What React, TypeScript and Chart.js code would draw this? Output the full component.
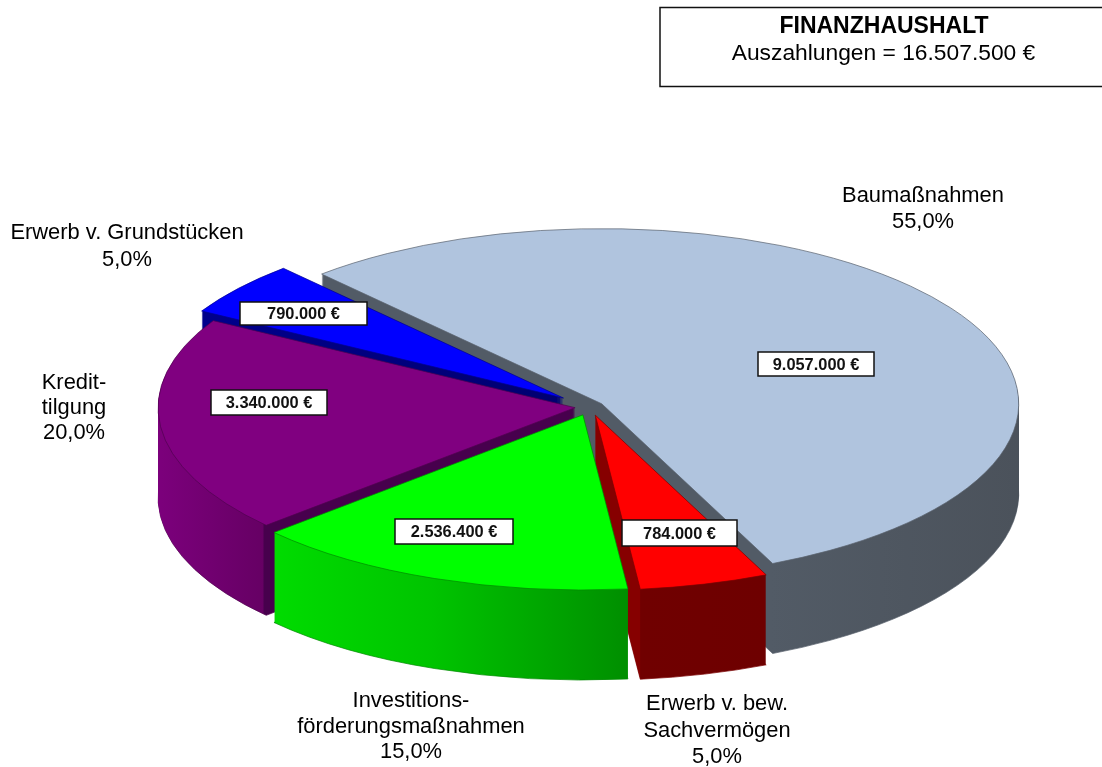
import React, { useEffect, useRef } from "react";
import { Chart, registerables } from "chart.js";

Chart.register(...registerables);

const categories = [
  "Baumaßnahmen",
  "Erwerb v. bew. Sachvermögen",
  "Investitionsförderungsmaßnahmen",
  "Kredittilgung",
  "Erwerb v. Grundstücken",
];
const shares = [55, 5, 15, 20, 5];
const amountLabels = ["9.057.000 €", "784.000 €", "2.536.400 €", "3.340.000 €", "790.000 €"];
const percentLabels = ["55,0%", "5,0%", "15,0%", "20,0%", "5,0%"];
const nameLines = [
  ["Baumaßnahmen"],
  ["Erwerb v. bew.", "Sachvermögen"],
  ["Investitions-", "förderungsmaßnahmen"],
  ["Kredit-", "tilgung"],
  ["Erwerb v. Grundstücken"],
];
const titleBold = "FINANZHAUSHALT";
const titleLine = "Auszahlungen = 16.507.500 €";

const topColors = ["#b0c4de", "#ff0000", "#00ff00", "#800080", "#0000ff"];
const edgeColors = ["#5a636e", "#7a0000", "#008a00", "#50004f", "#000090"];
const explode = [14, 20, 20, 15, 34];

const SQUASH = 0.42;
const DEPTH = 90;
const DRAW_ORDER = [0, 4, 3, 1, 2];

// layout of the texts (centre x, first-line y)
const namePos = [
  [923, 196],
  [717, 704],
  [411, 701],
  [74, 383],
  [127, 233],
];
const nameGap = [26, 26.5, 25.5, 25, 27];
// label boxes: left, top, width, height
const boxes = [
  [758, 352, 116, 24],
  [622, 520, 115, 26],
  [395, 519, 118, 25],
  [211, 390, 116, 25],
  [240, 302, 127, 23],
];

function explodeOffset(arc: any, i: number) {
  const mid = (arc.startAngle + arc.endAngle) / 2;
  return [Math.cos(mid) * explode[i], Math.sin(mid) * explode[i]];
}

function sideGradient(ctx: CanvasRenderingContext2D, arc: any, i: number) {
  const [ox] = explodeOffset(arc, i);
  const g = (stops: [number, string][], x0: number, x1: number) => {
    const grad = ctx.createLinearGradient(x0 - ox, 0, x1 - ox, 0);
    stops.forEach(([o, c]) => grad.addColorStop(o, c));
    return grad;
  };
  switch (i) {
    case 0:
      return g([[0, "#525b66"], [1, "#4b525b"]], 770, 1018);
    case 1:
      return g([[0, "#860000"], [0.26, "#860000"], [0.262, "#700000"], [1, "#6e0000"]], 596, 766);
    case 2:
      return g([[0, "#00dc00"], [0.45, "#00c400"], [1, "#008f00"]], 273, 627);
    case 3:
      return g([[0, "#7c007c"], [0.9, "#660064"], [0.905, "#47004d"], [1, "#47004d"]], 157, 275);
    default:
      return g([[0, "#00008c"], [1, "#000070"]], 200, 560);
  }
}

function pieTransform(ctx: CanvasRenderingContext2D, arc: any, i: number, dy: number) {
  const [ox, oy] = explodeOffset(arc, i);
  ctx.translate(arc.x, arc.y + dy);
  ctx.scale(1, SQUASH);
  ctx.translate(ox - arc.x, oy - arc.y);
}

const pie3d = {
  id: "pie3d",
  beforeDatasetsDraw(chart: any) {
    const ctx: CanvasRenderingContext2D = chart.ctx;
    const arcs = chart.getDatasetMeta(0).data;
    DRAW_ORDER.forEach((i) => {
      const arc = arcs[i];
      const side = Object.create(arc);
      const grad = sideGradient(ctx, arc, i);
      const base = Object.create(arc);
      base.options = { ...arc.options, backgroundColor: grad };
      ctx.save();
      pieTransform(ctx, arc, i, DEPTH);
      base.draw(ctx);
      ctx.restore();
      side.options = { ...arc.options, backgroundColor: grad, borderColor: grad, borderWidth: 0 };
      for (let dy = DEPTH - 1; dy >= 1; dy -= 1) {
        ctx.save();
        pieTransform(ctx, arc, i, dy);
        side.draw(ctx);
        ctx.restore();
      }
      ctx.save();
      pieTransform(ctx, arc, i, 0);
      arc.draw(ctx);
      ctx.restore();
    });
    return false;
  },
  afterDraw(chart: any) {
    const ctx: CanvasRenderingContext2D = chart.ctx;
    ctx.save();
    ctx.textAlign = "center";
    ctx.textBaseline = "middle";
    ctx.fillStyle = "#000";

    // header box
    ctx.strokeStyle = "#111";
    ctx.lineWidth = 1.5;
    ctx.strokeRect(660, 7.5, 460, 79);
    ctx.font = 'bold 23px "Liberation Sans"';
    ctx.fillText(titleBold, 884, 27);
    ctx.font = '22.8px "Liberation Sans"';
    ctx.fillText(titleLine, 883.5, 54);

    // slice names
    nameLines.forEach((lines, i) => {
      const [x, y] = namePos[i];
      [...lines, percentLabels[i]].forEach((t, k) => {
        ctx.font = '21.9px "Liberation Sans"';
        ctx.fillText(t, x, y + k * nameGap[i]);
      });
    });

    // value boxes
    amountLabels.forEach((t, i) => {
      const [x, y, w, h] = boxes[i];
      ctx.fillStyle = "#fff";
      ctx.fillRect(x, y, w, h);
      ctx.strokeStyle = "#111";
      ctx.lineWidth = 1.5;
      ctx.strokeRect(x, y, w, h);
      ctx.fillStyle = "#111";
      ctx.font = 'bold 16.4px "Liberation Sans"';
      ctx.fillText(t, x + w / 2, y + h / 2 + 1);
    });
    ctx.restore();
  },
};

export default function App() {
  const ref = useRef<HTMLCanvasElement>(null);
  useEffect(() => {
    document.body.style.margin = "0";
    const chart = new Chart(ref.current!, {
      type: "pie",
      data: {
        labels: categories,
        datasets: [
          {
            data: shares,
            backgroundColor: topColors,
            borderColor: edgeColors,
            borderWidth: 1,
            clip: false,
          } as any,
        ],
      },
      options: {
        responsive: false,
        animation: false,
        events: [],
        rotation: 317.8,
        radius: 417,
        layout: { padding: { left: 78, top: 47 } },
        plugins: { legend: { display: false }, tooltip: { enabled: false }, title: { display: false } },
      } as any,
      plugins: [pie3d as any],
    });
    return () => chart.destroy();
  }, []);
  return (
    <div style={{ width: 1102, height: 767, overflow: "hidden", background: "#fff" }}>
      <canvas ref={ref} width={1102} height={767} style={{ display: "block" }} />
    </div>
  );
}
